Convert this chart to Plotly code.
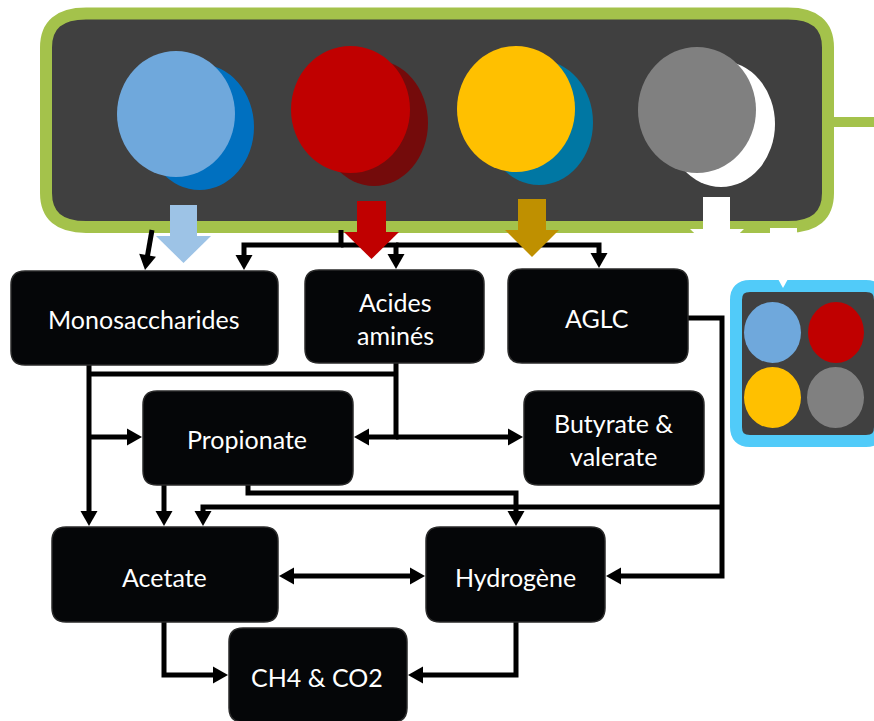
import plotly.graph_objects as go

# ---------------- data ----------------
node_labels = ["Monosaccharides", "Acides\naminés", "AGLC", "Propionate",
               "Butyrate &\nvalerate", "Acetate", "Hydrogène", "CH4 & CO2"]
substrate_colors = ["#6FA8DC", "#C00000", "#FFC000", "#808080"]
substrate_shadow = ["#0070C0", "#740B0B", "#0077A3", "#FFFFFF"]
substrate_arrow = ["#9DC3E6", "#C00000", "#BF9000", "#FFFFFF"]
# edges: (source, target) ; "Top" is the substrate box
edges = [("Top", "Monosaccharides"), ("Top", "Monosaccharides"), ("Top", "Acides\naminés"),
         ("Top", "AGLC"), ("Monosaccharides", "Acetate"), ("Monosaccharides", "Propionate"),
         ("Acides\naminés", "Propionate"), ("Acides\naminés", "Butyrate &\nvalerate"),
         ("Propionate", "Acetate"), ("Propionate", "Hydrogène"), ("AGLC", "Hydrogène"),
         ("AGLC", "Acetate"), ("Acetate", "Hydrogène"), ("Acetate", "CH4 & CO2"),
         ("Hydrogène", "CH4 & CO2")]

# ---------------- geometry (layout only) ----------------
W, H = 874, 721
box_geom = {  # x0, y0, x1, y1
    "Monosaccharides": (11, 271, 278, 365),
    "Acides\naminés": (305, 270, 484, 363),
    "AGLC": (508, 269, 688, 363),
    "Propionate": (143, 391, 353, 485),
    "Butyrate &\nvalerate": (524, 391, 704, 485),
    "Acetate": (52, 527, 278, 622),
    "Hydrogène": (426, 527, 605, 622),
    "CH4 & CO2": (229, 628, 407, 722),
}
text_pos = {
    "Monosaccharides": [(144, 319)],
    "Acides\naminés": [(395, 302), (395, 335)],
    "AGLC": [(597, 318)],
    "Propionate": [(247, 439)],
    "Butyrate &\nvalerate": [(613, 423), (613, 456)],
    "Acetate": [(164, 577)],
    "Hydrogène": [(515, 577)],
    "CH4 & CO2": [(317, 677)],
}
# routing polylines for each edge (in order of `edges`), last point is the arrow tip
routes = [
    [(152, 230), (145, 270)],
    [(341, 230), (341, 245), (244, 245), (244, 270)],
    [(341, 245), (396, 245), (396, 269)],
    [(396, 245), (599, 245), (599, 268)],
    [(89, 365), (89, 526)],
    [(89, 437), (142, 437)],
    [(396, 363), (396, 437), (354, 437)],
    [(396, 437), (523, 437)],
    [(164, 485), (164, 526)],
    [(248, 485), (248, 493), (516, 493), (516, 526)],
    [(688, 318), (722, 318), (722, 576), (606, 576)],
    [(722, 507), (203, 507), (203, 526)],
    [(279, 576), (425, 576)],
    [(164, 622), (164, 675), (228, 675)],
    [(516, 622), (516, 675), (408, 675)],
]
extra_lines = [[(89, 374), (396, 374)]]
double_heads = {12}

circle_geom = [  # front (x0,y0,x1,y1), back (x0,y0,x1,y1)
    ((117, 51, 235, 177), (145, 64, 254, 190)),
    ((291, 46, 410, 173), (320, 60, 428, 186)),
    ((457, 46, 575, 172), (485, 60, 593, 185)),
    ((638, 47, 756, 173), (667, 61, 775, 187)),
]
big_arrow_geom = [  # stem x0, x1, stem top, head y0, head x0, head x1, tip y
    (170, 197, 205, 236, 156, 211, 263),
    (357, 386, 201, 232, 344, 399, 259),
    (518, 546, 199, 230, 505, 559, 257),
    (703, 730, 197, 229, 690, 744, 255),
]
mini_geom = [(744, 302, 801, 363), (808, 302, 864, 363), (744, 367, 801, 428), (807, 367, 864, 428)]

GREEN = "#A4C24B"
DARK = "#404040"
BOX = "#050608"

def rrect(x0, y0, x1, y1, rx, ry=None):
    ry = rx if ry is None else ry
    return (f"M{x0+rx},{y0} L{x1-rx},{y0} Q{x1},{y0} {x1},{y0+ry} "
            f"L{x1},{y1-ry} Q{x1},{y1} {x1-rx},{y1} L{x0+rx},{y1} "
            f"Q{x0},{y1} {x0},{y1-ry} L{x0},{y0+ry} Q{x0},{y0} {x0+rx},{y0} Z")

shapes = []
# substrate box
shapes.append(dict(type="line", x0=826, x1=880, y0=122, y1=122, line=dict(color=GREEN, width=10)))
shapes.append(dict(type="path", path=rrect(46, 13.5, 828, 227, 40, 34), fillcolor=DARK,
                   line=dict(color=GREEN, width=12)))
for (f, b), c, s in zip(circle_geom, substrate_colors, substrate_shadow):
    shapes.append(dict(type="circle", x0=b[0], y0=b[1], x1=b[2], y1=b[3], fillcolor=s, line=dict(width=0)))
    shapes.append(dict(type="circle", x0=f[0], y0=f[1], x1=f[2], y1=f[3], fillcolor=c, line=dict(width=0)))
shapes.append(dict(type="rect", x0=770, x1=797, y0=228, y1=236, fillcolor="white", line=dict(width=0)))

# connectors
LW = 5
def head(tip, prev, L=15, hw=8.5):
    tx, ty = tip
    px, py = prev
    dx, dy = tx - px, ty - py
    n = (dx * dx + dy * dy) ** 0.5
    ux, uy = dx / n, dy / n
    bx, by = tx - ux * L, ty - uy * L
    nx, ny = -uy, ux
    return (f"M{tx},{ty} L{bx+nx*hw},{by+ny*hw} L{bx-nx*hw},{by-ny*hw} Z")

for i, r in enumerate(routes):
    pts = list(r)
    (tx, ty), (px, py) = pts[-1], pts[-2]
    dx, dy = tx - px, ty - py
    n = (dx * dx + dy * dy) ** 0.5
    end = (tx - dx / n * 10, ty - dy / n * 10)
    start = pts[0]
    if i in double_heads:
        start = (pts[0][0] + dx / n * 10, pts[0][1] + dy / n * 10)
    line_pts = [start] + pts[1:-1] + [end]
    path = "M" + " L".join(f"{x},{y}" for x, y in line_pts)
    shapes.append(dict(type="path", path=path, line=dict(color="black", width=LW)))
    shapes.append(dict(type="path", path=head(pts[-1], pts[-2]), fillcolor="black", line=dict(width=0)))
    if i in double_heads:
        shapes.append(dict(type="path", path=head(pts[0], pts[1]), fillcolor="black", line=dict(width=0)))
for r in extra_lines:
    path = "M" + " L".join(f"{x},{y}" for x, y in r)
    shapes.append(dict(type="path", path=path, line=dict(color="black", width=LW)))

# big substrate arrows
for g, c in zip(big_arrow_geom, substrate_arrow):
    sx0, sx1, st, hy, hx0, hx1, tip = g
    shapes.append(dict(type="rect", x0=sx0, x1=sx1, y0=st, y1=hy + 1, fillcolor=c, line=dict(width=0)))
    shapes.append(dict(type="path", path=f"M{hx0},{hy} L{hx1},{hy} L{(hx0+hx1)/2},{tip} Z",
                       fillcolor=c, line=dict(width=0)))

# nodes
for lab in node_labels:
    x0, y0, x1, y1 = box_geom[lab]
    shapes.append(dict(type="path", path=rrect(x0, y0, x1, y1, 14), fillcolor=BOX,
                       line=dict(color="#2a2a2a", width=1.5)))

# mini legend icon
shapes.append(dict(type="path", path=rrect(736, 286, 880, 441, 14), fillcolor=DARK,
                   line=dict(color="#51CBF9", width=12)))
shapes.append(dict(type="path", path="M778,279 L788,279 L783,288 Z", fillcolor="white", line=dict(width=0)))
for g, c in zip(mini_geom, substrate_colors):
    shapes.append(dict(type="circle", x0=g[0], y0=g[1], x1=g[2], y1=g[3], fillcolor=c, line=dict(width=0)))

annotations = []
for lab in node_labels:
    for line_txt, (x, y) in zip(lab.split("\n"), text_pos[lab]):
        annotations.append(dict(x=x, y=y, text=line_txt, showarrow=False, xanchor="center", yanchor="middle",
                                font=dict(family="Lato, Open Sans, sans-serif", size=25, color="white")))

fig = go.Figure()
fig.add_trace(go.Scatter(x=[0, W], y=[0, H], mode="markers", marker=dict(opacity=0), hoverinfo="skip",
                         showlegend=False))
fig.update_layout(width=W, height=H, margin=dict(l=0, r=0, t=0, b=0), paper_bgcolor="white",
                  plot_bgcolor="white", shapes=shapes, annotations=annotations, showlegend=False,
                  xaxis=dict(range=[0, W], visible=False, fixedrange=True),
                  yaxis=dict(range=[H, 0], visible=False, fixedrange=True))
fig.write_html("out.html", config={"displayModeBar": False},
               post_script="document.body.style.margin='0';document.body.style.overflow='hidden';")
